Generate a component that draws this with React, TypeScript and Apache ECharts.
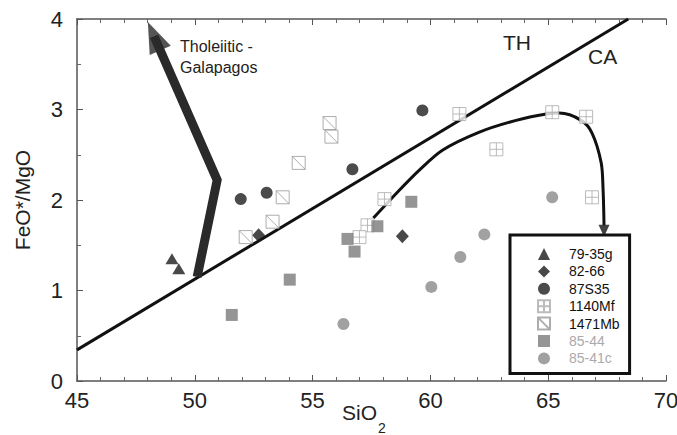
import React, { useEffect, useRef } from "react";
import * as echarts from "echarts";

const FONT = "'Liberation Sans', Arial, sans-serif";

// Data (SiO2, FeO*/MgO)
const s7935g = [[49.03, 1.35], [49.32, 1.24]];
const s8266 = [[52.71, 1.61], [58.81, 1.6]];
const s87S35 = [[51.95, 2.01], [53.05, 2.08], [56.69, 2.34], [59.66, 2.99]];
const s1140Mf = [[58.05, 2.01], [57.33, 1.72], [56.99, 1.59], [61.23, 2.95], [65.17, 2.97], [66.61, 2.92], [62.8, 2.56], [66.86, 2.03]];
const s1471Mb = [[55.72, 2.85], [55.8, 2.7], [54.41, 2.41], [53.73, 2.03], [53.3, 1.76], [52.16, 1.59]];
const s8544 = [[59.19, 1.98], [57.75, 1.71], [56.48, 1.57], [56.78, 1.43], [51.57, 0.73], [54.03, 1.12]];
const s8541c = [[65.17, 2.03], [56.31, 0.63], [60.04, 1.04], [61.27, 1.37], [62.29, 1.62]];

// Miyashiro TH/CA divide
const dividerLine = [[45, 0.344], [68.4, 4]];
// Tholeiitic - Galapagos trend arrow
const galapagosTrend = [[50.1, 1.15], [50.95, 2.22], [48.27, 3.81]];
const galapagosHead = [48.27, 3.81];
// Calc-alkaline trend curve
const caTrend = [[57.58, 1.8], [58.69, 2.11], [59.53, 2.33], [60.51, 2.55], [62.08, 2.75], [63.64, 2.88], [64.92, 2.95], [65.47, 2.96], [66.4, 2.88], [66.86, 2.74], [67.25, 2.41], [67.33, 2.11], [67.37, 1.72]];
const caHead = [67.37, 1.66];

const xTicks = { min: 45, max: 70, interval: 5 };
const yTicks = { min: 0, max: 4, interval: 1 };

const legendNames = ["79-35g", "82-66", "87S35", "1140Mf", "1471Mb", "85-44", "85-41c"];

const gridSquare = "path://M0,0L10,0L10,10L0,10ZM5,0L5,10M0,5L10,5";
const diagSquare = "path://M0,0L10,0L10,10L0,10ZM0,0L10,10";

export default function App() {
  const ref = useRef<HTMLDivElement>(null);
  useEffect(() => {
    if (!ref.current) return;
    const chart = echarts.init(ref.current, null, { renderer: "svg" });
    const axisLine = { show: true, onZero: false, lineStyle: { color: "#555", width: 1.5 } };
    const tick = { show: true, inside: true, length: 6, lineStyle: { color: "#555", width: 1 } };
    const minor = (n: number) => ({ show: true, splitNumber: n, length: 4, lineStyle: { color: "#666", width: 1 } });
    chart.setOption({
      animation: false,
      backgroundColor: "#fff",
      textStyle: { fontFamily: FONT },
      grid: { left: 77, right: 11, top: 19, bottom: 54, containLabel: false, outerBoundsMode: "none" },
      xAxis: [
        {
          type: "value", ...xTicks, position: "bottom",
          axisLine, axisTick: tick, minorTick: minor(5), splitLine: { show: false },
          axisLabel: { fontSize: 22, color: "#222", margin: 8, fontFamily: FONT },
        },
        {
          type: "value", ...xTicks, position: "top",
          axisLine, axisTick: tick, minorTick: minor(5), splitLine: { show: false },
          axisLabel: { show: false },
        },
      ],
      yAxis: {
        type: "value", ...yTicks,
        axisLine, axisTick: tick, minorTick: minor(2), splitLine: { show: false },
        axisLabel: { fontSize: 22, color: "#222", margin: 14, fontFamily: FONT },
        name: "FeO*/MgO", nameLocation: "middle", nameGap: 44, nameRotate: 90,
        nameTextStyle: { fontSize: 21, color: "#222", fontFamily: FONT },
      },
      legend: {
        data: legendNames.map((n, i) => ({ name: n, textStyle: { color: i >= 5 ? "#aaa" : "#111" } })),
        orient: "vertical",
        left: 510, top: 235,
        padding: [12, 10, 8, 27],
        itemWidth: 12, itemHeight: 12, itemGap: 3.4,
        borderColor: "#111", borderWidth: 3, backgroundColor: "#fff",
        textStyle: { fontSize: 14, lineHeight: 14, fontFamily: FONT, padding: [0, 0, 0, 14] },
        selectedMode: false,
      },
      series: [
        { type: "line", data: dividerLine, symbol: "none", lineStyle: { color: "#111", width: 3 }, z: 1, silent: true },
        { type: "line", data: galapagosTrend, symbol: "none", lineStyle: { color: "#2a2a2a", width: 9, join: "miter" }, z: 1, silent: true },
        { type: "scatter", data: [galapagosHead], symbol: "triangle", symbolSize: [23, 31], symbolRotate: 23.6, itemStyle: { color: "#2a2a2a" }, z: 1, silent: true },
        { type: "line", data: caTrend, symbol: "none", smooth: 0.3, lineStyle: { color: "#111", width: 3 }, z: 1, silent: true },
        { type: "scatter", data: [caHead], symbol: "triangle", symbolSize: [11, 12], symbolRotate: 180, itemStyle: { color: "#111" }, z: 1, silent: true },
        { name: "79-35g", type: "scatter", data: s7935g, symbol: "triangle", symbolSize: [13, 11], itemStyle: { color: "#1a1a1a" }, z: 3 },
        { name: "82-66", type: "scatter", data: s8266, symbol: "diamond", symbolSize: [13, 14], itemStyle: { color: "#1a1a1a" }, z: 3 },
        { name: "87S35", type: "scatter", data: s87S35, symbol: "circle", symbolSize: 12, itemStyle: { color: "#1e1e1e" }, z: 3 },
        { name: "1140Mf", type: "scatter", data: s1140Mf, symbol: gridSquare, symbolSize: 13, itemStyle: { color: "#fff", borderColor: "#aaa", borderWidth: 1 }, z: 3 },
        { name: "1471Mb", type: "scatter", data: s1471Mb, symbol: diagSquare, symbolSize: 13, itemStyle: { color: "#fff", borderColor: "#999", borderWidth: 1 }, z: 3 },
        { name: "85-44", type: "scatter", data: s8544, symbol: "rect", symbolSize: 12, itemStyle: { color: "#7a7a7a" }, z: 3 },
        { name: "85-41c", type: "scatter", data: s8541c, symbol: "circle", symbolSize: 12, itemStyle: { color: "#8a8a8a" }, z: 3 },
      ],
      graphic: [
        { type: "text", left: 180, top: 36, style: { text: "Tholeiitic -\nGalapagos", fontSize: 16, lineHeight: 21, fill: "#222", font: `16px ${FONT}` } },
        { type: "text", left: 503, top: 32, style: { text: "TH", fill: "#222", font: `21px ${FONT}` } },
        { type: "text", left: 588, top: 46, style: { text: "CA", fill: "#222", font: `21px ${FONT}` } },
        {
          type: "text", left: 342, top: 402,
          style: {
            text: "SiO{sub|2}", fill: "#222", font: `21px ${FONT}`,
            rich: { sub: { fontSize: 14, fontFamily: FONT, fill: "#222", padding: [30, 0, 0, 1] } },
          },
        },
      ],
    });
    return () => chart.dispose();
  }, []);
  return <div ref={ref} style={{ position: "fixed", left: 0, top: 0, width: 677, height: 435 }} />;
}
